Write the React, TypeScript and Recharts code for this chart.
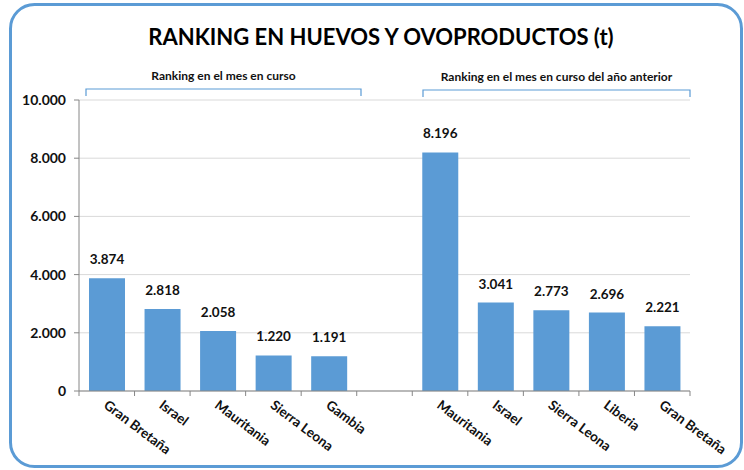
import React from "react";
import { BarChart, Bar, XAxis, YAxis, CartesianGrid, LabelList } from "recharts";

// categories (the blank one is the gap between the two groups)
const ids = ["a1", "a2", "a3", "a4", "a5", "gap", "b1", "b2", "b3", "b4", "b5"];
const countries = [
  "Gran Bretaña",
  "Israel",
  "Mauritania",
  "Sierra Leona",
  "Gambia",
  "",
  "Mauritania",
  "Israel",
  "Sierra Leona",
  "Liberia",
  "Gran Bretaña",
];
const tonnes: (number | null)[] = [3874, 2818, 2058, 1220, 1191, null, 8196, 3041, 2773, 2696, 2221];
const yTicks = [0, 2000, 4000, 6000, 8000, 10000];

const title = "RANKING EN HUEVOS Y OVOPRODUCTOS (t)";
const groupLeft = "Ranking en el mes en curso";
const groupRight = "Ranking en el mes en curso del año anterior";

const data = ids.map((id, i) => ({ id, name: countries[i], value: tonnes[i] }));

const W = 744;
const H = 470;
const M = { top: 100, right: 54, bottom: 9, left: 19 };
const Y_W = 60;
const PLOT_W = W - M.left - M.right - Y_W;
const BAND = PLOT_W / ids.length;

const BLUE = "#5B9BD5";
const FONT = "Lato, 'Open Sans', sans-serif";

const fmt = (v: number) =>
  v.toString().replace(/\B(?=(\d{3})+(?!\d))/g, ".");

const XTick = (props: any) => {
  const { x, y, index } = props;
  const label = data[index]?.name ?? "";
  const left = x - BAND / 2;
  return (
    <g>
      <line x1={left} y1={y} x2={left} y2={y + 5} stroke="#868686" />
      {index === ids.length - 1 && (
        <line x1={x + BAND / 2} y1={y} x2={x + BAND / 2} y2={y + 5} stroke="#868686" />
      )}
      <text
        x={x - 4}
        y={y + 16}
        transform={`rotate(37 ${x - 4} ${y + 16})`}
        textAnchor="start"
        fontFamily={FONT}
        fontWeight={700}
        fontSize={13.5}
        fill="#111"
      >
        {label}
      </text>
    </g>
  );
};

const Bracket = ({ x1, x2, y, label }: { x1: number; x2: number; y: number; label: string }) => (
  <g>
    <path
      d={`M${x1},${y + 7} L${x1},${y} L${x2},${y} L${x2},${y + 7}`}
      fill="none"
      stroke={BLUE}
      strokeWidth={1.2}
    />
    <text
      x={(x1 + x2) / 2}
      y={y - 9}
      textAnchor="middle"
      fontFamily={FONT}
      fontWeight={700}
      fontSize={12}
      fill="#111"
    >
      {label}
    </text>
  </g>
);

export default function App() {
  return (
    <div style={{ position: "absolute", left: 0, top: 0, width: W, height: H, background: "#fff" }}>
      <BarChart
        width={W}
        height={H}
        data={data}
        margin={M}
        barCategoryGap="18%"
      >
        <CartesianGrid vertical={false} stroke="#D9D9D9" />
        <XAxis
          dataKey="id"
          interval={0}
          height={70}
          tickLine={false}
          tickSize={0}
          tickMargin={0}
          axisLine={{ stroke: "#868686" }}
          tick={<XTick />}
        />
        <YAxis
          width={Y_W}
          domain={[0, 10000]}
          ticks={yTicks}
          tickFormatter={fmt}
          axisLine={{ stroke: "#868686" }}
          tickLine={{ stroke: "#868686" }}
          tickSize={5}
          tickMargin={8}
          tick={{ fontFamily: FONT, fontWeight: 700, fontSize: 14, fill: "#111" }}
        />
        <Bar dataKey="value" fill={BLUE} isAnimationActive={false}>
          <LabelList
            dataKey="value"
            position="top"
            offset={14}
            formatter={(v: any) => (v == null ? "" : fmt(v))}
            style={{ fontFamily: FONT, fontWeight: 700, fontSize: 13.5, fill: "#111" }}
          />
        </Bar>
      </BarChart>
      <svg
        width={W}
        height={H}
        style={{ position: "absolute", left: 0, top: 0, pointerEvents: "none" }}
      >
        <rect x={10.5} y={4.5} width={731} height={462} rx={24} fill="none" stroke={BLUE} strokeWidth={3} />
        <text
          x={381}
          y={45}
          textAnchor="middle"
          fontFamily={FONT}
          fontWeight={700}
          fontSize={22}
          fill="#000"
        >
          {title}
        </text>
        <Bracket x1={86} x2={361} y={89} label={groupLeft} />
        <Bracket x1={423} x2={690} y={90} label={groupRight} />
      </svg>
    </div>
  );
}
